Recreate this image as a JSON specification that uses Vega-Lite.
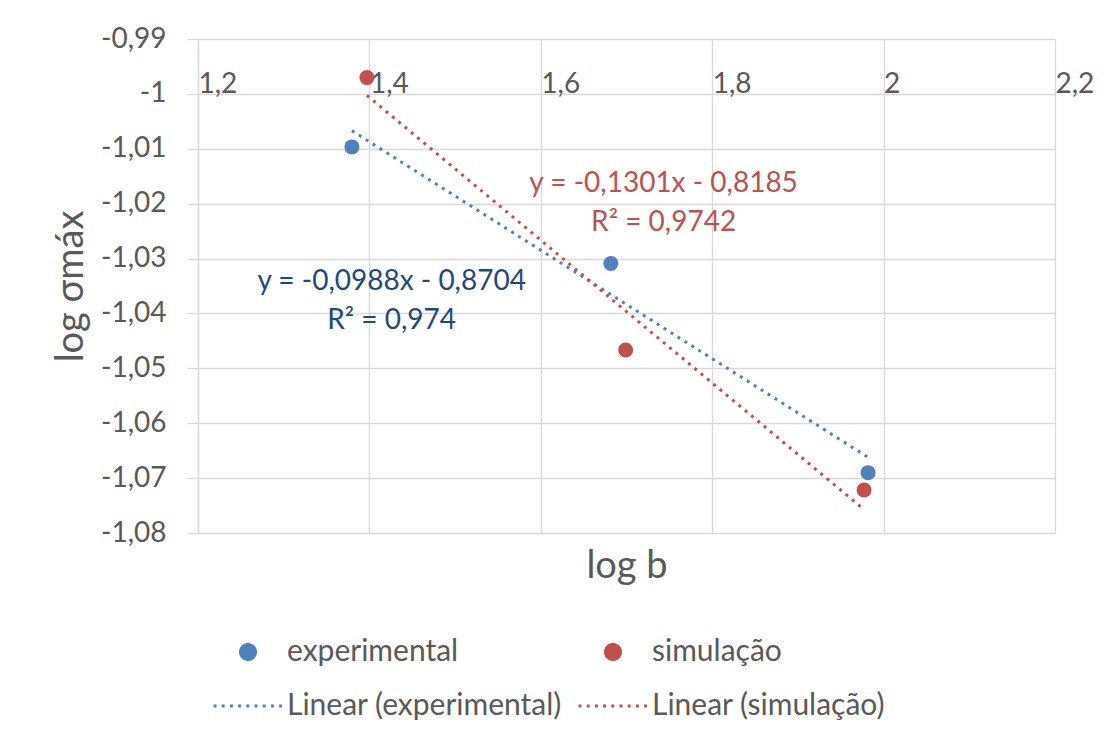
{
  "$schema": "https://vega.github.io/schema/vega-lite/v6.json",
  "width": 857,
  "height": 494,
  "autosize": {"type": "none"},
  "padding": {"left": 198, "top": 39, "right": 65, "bottom": 207},
  "background": "white",
  "config": {
    "locale": {"number": {"decimal": ",", "thousands": ".", "grouping": [3], "currency": ["", ""], "minus": "-"}},
    "font": "Lato",
    "view": {"stroke": null},
    "axis": {
      "labelFont": "Lato", "titleFont": "Lato",
      "labelColor": "#595959", "titleColor": "#595959",
      "titleFontWeight": "normal",
      "gridColor": "#D9D9D9", "gridWidth": 1.3,
      "domainColor": "#D9D9D9", "domainWidth": 1.3,
      "tickColor": "#D9D9D9", "tickWidth": 1.3
    },
    "legend": {
      "labelFont": "Lato", "labelFontSize": 30, "labelColor": "#595959",
      "labelOffset": 3, "columnPadding": 10, "rowPadding": 3, "labelLimit": 500,
      "symbolStrokeWidth": 3
    }
  },
  "datasets": {
    "pts": [
      {"b": 1.3796, "s": -1.00966, "series": "experimental"},
      {"b": 1.6817, "s": -1.03091, "series": "experimental"},
      {"b": 1.9819, "s": -1.06901, "series": "experimental"},
      {"b": 1.3971, "s": -0.99703, "series": "simulação"},
      {"b": 1.6990, "s": -1.04667, "series": "simulação"},
      {"b": 1.9772, "s": -1.07216, "series": "simulação"}
    ],
    "trend": [
      {"b": 1.3796, "s": -1.00671, "series": "Linear (experimental)"},
      {"b": 1.9819, "s": -1.06621, "series": "Linear (experimental)"},
      {"b": 1.3971, "s": -1.00026, "series": "Linear (simulação)"},
      {"b": 1.9772, "s": -1.07573, "series": "Linear (simulação)"}
    ],
    "eq": [
      {"b": 1.7433, "s": -1.0164, "series": "simulação", "label": "y = -0,1301x - 0,8185\nR² = 0,9742"},
      {"b": 1.4260, "s": -1.0343, "series": "experimental", "label": "y = -0,0988x - 0,8704\nR² = 0,974"}
    ]
  },
  "layer": [
    {
      "data": {"name": "pts"},
      "mark": {"type": "point", "filled": true, "opacity": 1},
      "encoding": {
        "x": {
          "field": "b", "type": "quantitative",
          "scale": {"domain": [1.2, 2.2], "nice": false, "zero": false},
          "axis": {
            "orient": "bottom", "title": "log b", "titleFontSize": 38, "titlePadding": 14,
            "values": [1.2, 1.4, 1.6, 1.8, 2, 2.2], "format": ".1~f",
            "labelFontSize": 28, "labelAlign": "left", "labelBaseline": "alphabetic",
            "labelPadding": -441, "labelDx": 1,
            "ticks": false, "tickSize": 0, "domain": false,
            "grid": true, "labelFlush": false, "labelOverlap": false
          }
        },
        "y": {
          "field": "s", "type": "quantitative",
          "scale": {"domain": [-1.08, -0.99], "nice": false, "zero": false},
          "axis": {
            "orient": "left", "title": "log σmáx",
            "values": [-0.99, -1, -1.01, -1.02, -1.03, -1.04, -1.05, -1.06, -1.07, -1.08],
            "format": ".2~f",
            "labelFontSize": 28, "labelPadding": 21, "tickSize": 11,
            "titleFontSize": 38, "titlePadding": 10,
            "grid": true, "labelFlush": false, "labelOverlap": false
          }
        },
        "color": {
          "field": "series", "type": "nominal",
          "scale": {
            "domain": ["experimental", "simulação", "Linear (experimental)", "Linear (simulação)"],
            "range": ["#4F81BD", "#C0504D", "#4F81BD", "#C0504D"]
          },
          "legend": {"title": null, "orient": "none", "legendX": 14, "legendY": 598, "columns": 2, "direction": "horizontal"}
        },
        "shape": {
          "field": "series", "type": "nominal",
          "scale": {
            "domain": ["experimental", "simulação", "Linear (experimental)", "Linear (simulação)"],
            "range": ["circle", "circle", "stroke", "stroke"]
          },
          "legend": {"title": null, "orient": "none", "legendX": 14, "legendY": 598, "columns": 2, "direction": "horizontal"}
        },
        "size": {
          "field": "series", "type": "nominal",
          "scale": {
            "type": "ordinal",
            "domain": ["experimental", "simulação", "Linear (experimental)", "Linear (simulação)"],
            "range": [225, 225, 4761, 4761]
          },
          "legend": {"title": null, "orient": "none", "legendX": 14, "legendY": 598, "columns": 2, "direction": "horizontal"}
        }
      }
    },
    {
      "data": {"name": "trend"},
      "mark": {"type": "line", "strokeWidth": 3, "strokeCap": "butt"},
      "encoding": {
        "x": {"field": "b", "type": "quantitative"},
        "y": {"field": "s", "type": "quantitative"},
        "color": {"field": "series", "type": "nominal"},
        "strokeDash": {
          "field": "series", "type": "nominal",
          "scale": {
            "domain": ["experimental", "simulação", "Linear (experimental)", "Linear (simulação)"],
            "range": [[1, 0], [1, 0], [3, 5.2], [3, 5.2]]
          },
          "legend": {"title": null, "orient": "none", "legendX": 14, "legendY": 598, "columns": 2, "direction": "horizontal"}
        }
      }
    },
    {
      "data": {"name": "eq"},
      "transform": [{"filter": "datum.series === 'simulação'"}],
      "mark": {"type": "text", "fontSize": 28, "font": "Lato", "color": "#C0504D", "align": "center", "baseline": "middle", "lineBreak": "\n", "lineHeight": 39},
      "encoding": {
        "x": {"field": "b", "type": "quantitative"},
        "y": {"field": "s", "type": "quantitative"},
        "text": {"field": "label"}
      }
    },
    {
      "data": {"name": "eq"},
      "transform": [{"filter": "datum.series === 'experimental'"}],
      "mark": {"type": "text", "fontSize": 28, "font": "Lato", "color": "#1F497D", "align": "center", "baseline": "middle", "lineBreak": "\n", "lineHeight": 39},
      "encoding": {
        "x": {"field": "b", "type": "quantitative"},
        "y": {"field": "s", "type": "quantitative"},
        "text": {"field": "label"}
      }
    }
  ]
}
